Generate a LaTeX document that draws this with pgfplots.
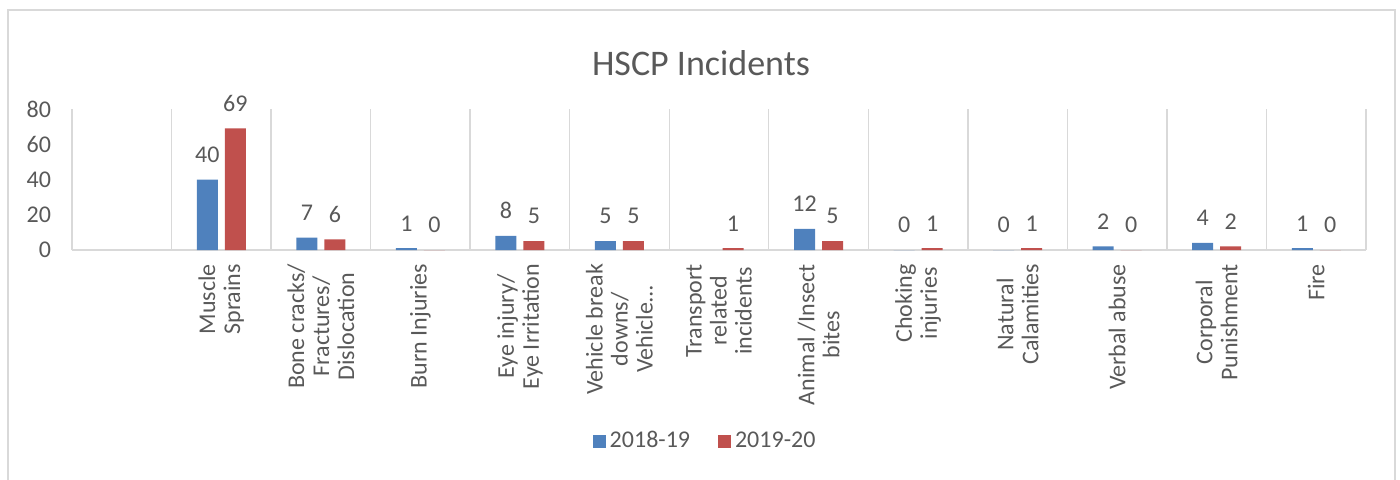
\documentclass[border=0pt]{standalone}
\usepackage{pgfplots}
\pgfplotsset{compat=1.18}
\usepackage{fontspec}
\setmainfont{Carlito}
\definecolor{cblue}{HTML}{4F81BD}
\definecolor{cred}{HTML}{C0504D}
\definecolor{ctext}{HTML}{595959}
\definecolor{cgrid}{HTML}{D9D9D9}
\begin{document}
\begin{tikzpicture}
\useasboundingbox (0pt,0pt) rectangle (700pt,239.5pt);
\draw[cgrid, line width=0.7pt] (4pt,-5pt) -- (4pt,234.5pt) -- (697.5pt,234.5pt) -- (697.5pt,-5pt);
\node[text=ctext, font=\fontsize{18}{21}\selectfont] at (350.5pt,208pt) {HSCP Incidents};
\begin{axis}[
  at={(36pt,114.5pt)}, anchor=south west,
  scale only axis, width=647pt, height=70.5pt,
  xmin=-0.5, xmax=12.5, ymin=0, ymax=80,
  /pgf/number format/assume math mode=true,
  ytick={0,20,40,60,80},
  xtick={0,1,2,3,4,5,6,7,8,9,10,11,12},
  xticklabels={{},{Muscle\\Sprains},{Bone cracks/\\Fractures/\\Dislocation},{Burn Injuries},{Eye injury/\\Eye Irritation},{Vehicle break\\downs/\\Vehicle…},{Transport\\related\\incidents},{Animal /Insect\\bites},{Choking\\injuries},{Natural\\Calamities},{Verbal abuse},{Corporal\\Punishment},{Fire}},
  minor xtick={-0.5,0.5,1.5,2.5,3.5,4.5,5.5,6.5,7.5,8.5,9.5,10.5,11.5,12.5},
  xminorgrids, minor grid style={cgrid, line width=0.7pt},
  major tick length=0pt, minor tick length=0pt,
  axis x line*=bottom, axis y line*=left,
  x axis line style={cgrid, line width=0.9pt},
  y axis line style={draw=none},
  tick label style={font=\fontsize{12}{12.5}\selectfont, text=ctext},
  xticklabel style={yshift=-3.5pt, rotate=90, anchor=east, align=center},
  yticklabel style={xshift=-7pt},
  ybar=3.5pt, bar width=10.5pt,
  nodes near coords,
  every node near coord/.append style={font=\fontsize{12}{13.5}\selectfont, text=ctext, yshift=5pt},
  clip=false,
  legend style={at={(0.49,-1.355)}, anchor=center, draw=none, fill=none,
    legend columns=2, font=\fontsize{12}{13.5}\selectfont, text=ctext,
    /tikz/every even column/.append style={column sep=12pt}},
  legend image code/.code={\fill[#1] (0pt,-3.25pt) rectangle (6.5pt,3.25pt);},
]
\addplot[fill=cblue, draw=none] coordinates {(1,40) (2,7) (3,1) (4,8) (5,5) (7,12) (8,0) (9,0) (10,2) (11,4) (12,1)};
\addplot[fill=cred, draw=none] coordinates {(1,69) (2,6) (3,0) (4,5) (5,5) (6,1) (7,5) (8,1) (9,1) (10,0) (11,2) (12,0)};
\legend{2018-19,2019-20}
\end{axis}
\end{tikzpicture}
\end{document}
